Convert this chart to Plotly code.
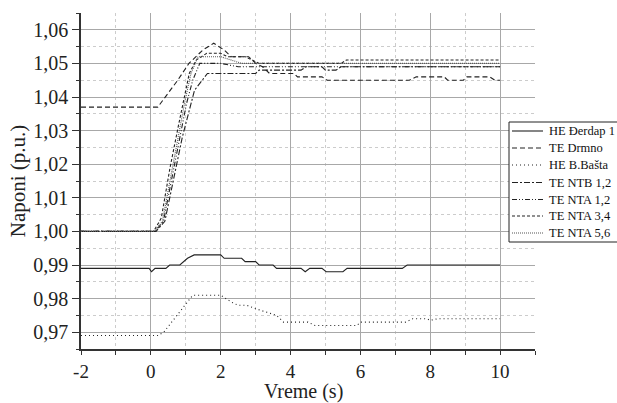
import plotly.graph_objects as go

# ---- data ----
t_derdap = [-2, -0.05, 0.02, 0.12, 0.43, 0.54, 0.83, 1.05, 1.24, 2.0, 2.1, 2.6, 2.7, 3.0, 3.1, 3.5, 3.6, 4.3, 4.42, 4.55, 4.9, 5.02, 5.5, 5.62, 7.2, 7.34, 10]
v_derdap = [0.989, 0.989, 0.988, 0.989, 0.989, 0.990, 0.990, 0.992, 0.993, 0.993, 0.992, 0.992, 0.991, 0.991, 0.990, 0.990, 0.989, 0.989, 0.988, 0.989, 0.989, 0.988, 0.988, 0.989, 0.989, 0.990, 0.990]

t_drmno = [-2, 0.2, 0.77, 1.09, 1.49, 1.8, 2.1, 2.3, 2.8, 3.0, 3.2, 3.4, 4.1, 4.2, 4.9, 5.05, 7.4, 7.6, 8.4, 8.5, 8.95, 9.05, 9.7, 9.85, 10]
v_drmno = [1.037, 1.037, 1.045, 1.050, 1.054, 1.056, 1.054, 1.052, 1.052, 1.050, 1.049, 1.047, 1.047, 1.046, 1.046, 1.045, 1.045, 1.046, 1.046, 1.045, 1.045, 1.046, 1.046, 1.045, 1.045]

t_basta = [-2, 0.2, 0.37, 1.2, 2.0, 2.3, 2.5, 2.75, 3.0, 3.3, 3.6, 3.8, 4.5, 4.7, 5.9, 6.0, 7.3, 7.5, 7.9, 8.0, 8.2, 10]
v_basta = [0.969, 0.969, 0.970, 0.981, 0.981, 0.979, 0.978, 0.978, 0.977, 0.976, 0.975, 0.973, 0.973, 0.972, 0.972, 0.973, 0.973, 0.974, 0.974, 0.9735, 0.974, 0.974]

t_ntb12 = [-2, 0.15, 0.4, 0.66, 0.9, 1.1, 1.25, 1.62, 3.0, 3.1, 4.3, 4.45, 4.9, 5.0, 5.3, 5.45, 10]
v_ntb12 = [1.000, 1.000, 1.003, 1.016, 1.028, 1.036, 1.042, 1.047, 1.047, 1.048, 1.048, 1.049, 1.049, 1.048, 1.048, 1.049, 1.049]

t_nta12 = [-2, 0.12, 0.36, 0.62, 0.86, 1.02, 1.2, 1.4, 2.0, 2.5, 10]
v_nta12 = [1.000, 1.000, 1.003, 1.017, 1.030, 1.038, 1.045, 1.050, 1.050, 1.049, 1.049]

t_nta34 = [-2, 0.08, 0.3, 0.55, 0.8, 0.95, 1.1, 1.3, 1.6, 2.0, 2.2, 2.7, 2.9, 3.1, 5.45, 5.6, 10]
v_nta34 = [1.000, 1.000, 1.004, 1.019, 1.032, 1.040, 1.047, 1.051, 1.053, 1.053, 1.052, 1.052, 1.051, 1.050, 1.050, 1.051, 1.051]

t_nta56 = [-2, 0.1, 0.33, 0.58, 0.82, 0.98, 1.15, 1.35, 2.0, 2.3, 2.6, 10]
v_nta56 = [1.000, 1.000, 1.003, 1.017, 1.030, 1.039, 1.047, 1.052, 1.052, 1.051, 1.050, 1.050]

names = ["HE Đerdap 1", "TE Drmno", "HE B.Bašta", "TE NTB 1,2", "TE NTA 1,2", "TE NTA 3,4", "TE NTA 5,6"]
x_ticks = [-2, 0, 2, 4, 6, 8, 10]
x_title = "Vreme (s)"
y_title = "Naponi (p.u.)"

series = [
    (t_derdap, v_derdap, "solid", "#222222"),
    (t_drmno, v_drmno, "5px,3px", "#222222"),
    (t_basta, v_basta, "1px,3px", "#222222"),
    (t_ntb12, v_ntb12, "6px,2px,2px,2px", "#222222"),
    (t_nta12, v_nta12, "5px,2px,1px,2px,1px,2px", "#222222"),
    (t_nta34, v_nta34, "3px,2px", "#222222"),
    (t_nta56, v_nta56, "1px,1px", "#555555"),
]

FONT = "Liberation Serif, Times New Roman, serif"
W, H = 617, 403
ML, MR, MT, MB = 81, 82, 13, 54
PW, PH = W - ML - MR, H - MT - MB


def px_x(px):
    return (px - ML) / PW


def px_y(py):
    return (H - MB - py) / PH


fig = go.Figure()
for (t, v, dash, col), nm in zip(series, names):
    fig.add_trace(go.Scatter(x=t, y=v, mode="lines", name=nm, showlegend=False,
                             line=dict(color=col, width=1.1, dash=dash)))

# legend drawn as a boxed key (overflowing the right edge like the reference)
shapes = [dict(type="rect", xref="paper", yref="paper",
               x0=px_x(509), x1=px_x(640), y0=px_y(242), y1=px_y(122),
               line=dict(color="#222222", width=1), fillcolor="white", layer="above")]
annotations = []
row_y = [131, 148, 165, 182.5, 199.5, 216, 233]
for (t, v, dash, col), nm, ry in zip(series, names, row_y):
    shapes.append(dict(type="line", xref="paper", yref="paper",
                       x0=px_x(512), x1=px_x(543), y0=px_y(ry), y1=px_y(ry),
                       line=dict(color=col, width=1.1, dash=dash), layer="above"))
    annotations.append(dict(xref="paper", yref="paper", x=px_x(547), y=px_y(ry),
                            xanchor="left", yanchor="middle", showarrow=False, text=nm,
                            font=dict(family=FONT, size=12.5, color="#111111")))

# x-axis title placed just under the tick labels
annotations.append(dict(xref="paper", yref="paper", x=px_x(303),
                        y=px_y(391), xanchor="center", yanchor="middle", showarrow=False,
                        text=x_title, font=dict(family=FONT, size=20, color="#222222")))

fig.update_layout(
    width=W, height=H,
    margin=dict(l=ML, r=MR, t=MT, b=MB, autoexpand=False),
    paper_bgcolor="white", plot_bgcolor="white",
    separators=", ",
    font=dict(family=FONT, color="#222222"),
    showlegend=False,
    shapes=shapes, annotations=annotations,
)

fig.update_xaxes(
    range=[-2, 11], tickmode="array", tickvals=x_ticks,
    ticktext=[str(v) for v in x_ticks], automargin=False,
    showline=True, linecolor="#333333", linewidth=1.5,
    ticks="outside", ticklen=4, tickcolor="#333333", tickwidth=1,
    showgrid=True, gridcolor="#a8a8a8", gridwidth=1, zeroline=False,
    tickfont=dict(size=19, family=FONT, color="#222222"),
    minor=dict(dtick=1, tick0=-2, showgrid=True, gridcolor="#cccccc", griddash="dot",
               gridwidth=1, ticks="outside", ticklen=4, tickcolor="#333333"),
)

fig.update_yaxes(
    range=[0.965, 1.065], dtick=0.01, tick0=0.97, tickformat=".2f", automargin=False,
    showline=True, linecolor="#333333", linewidth=1.5,
    ticks="outside", ticklen=7, tickcolor="#333333", tickwidth=1,
    showgrid=True, gridcolor="#a8a8a8", gridwidth=1, zeroline=False,
    tickfont=dict(size=20, family=FONT, color="#222222"),
    minor=dict(dtick=0.005, tick0=0.965, showgrid=True, gridcolor="#cccccc", griddash="dot",
               gridwidth=1, ticks="outside", ticklen=3, tickcolor="#333333"),
    title=dict(text=y_title, font=dict(size=21, family=FONT, color="#222222"), standoff=2),
)

fig.write_html("out.html")
